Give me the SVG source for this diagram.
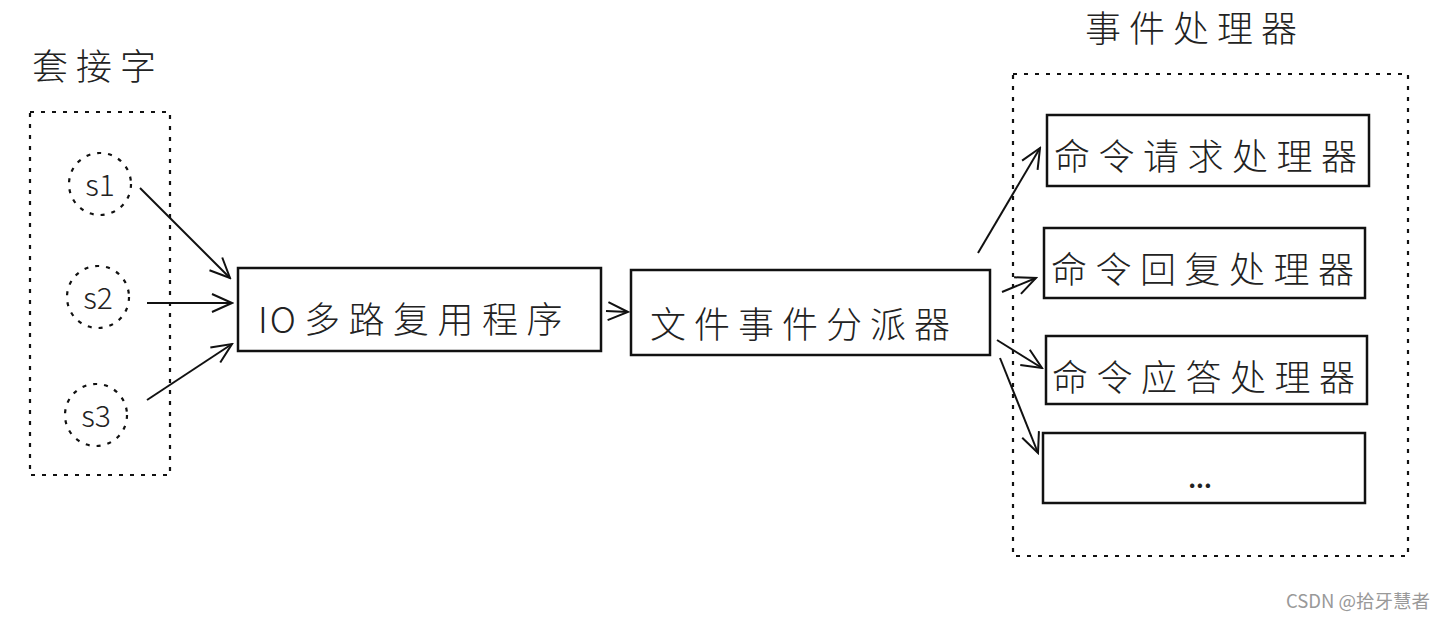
<svg xmlns="http://www.w3.org/2000/svg" width="1444" height="619" viewBox="0 0 1444 619">
<style>
.lbl{font-family:"Noto Sans CJK SC","Liberation Sans",sans-serif;font-weight:300;fill:#222}
.sp{letter-spacing:8px}
.dash{fill:none;stroke:#111;stroke-width:2.2;stroke-dasharray:4 7}
.box{fill:#fff;stroke:#111;stroke-width:2.5}
.cn{fill:none;stroke:#111;stroke-width:2}
</style>
<defs>
<marker id="ah" viewBox="0 0 24 24" refX="22" refY="12" markerWidth="24" markerHeight="24" markerUnits="userSpaceOnUse" orient="auto">
<path d="M2 3 L22 12 L2 21" fill="none" stroke="#111" stroke-width="2"/>
</marker>
</defs>
<rect width="1444" height="619" fill="#fff"/>
<g id="sockets">
<text class="lbl sp" x="32" y="80" font-size="36">套接字</text>
<rect class="dash" x="30" y="112" width="140" height="363"/>
</g>
<g id="s1"><circle class="dash" cx="100" cy="184" r="31"/><text class="lbl" x="100" y="196" font-size="30" text-anchor="middle">s1</text></g>
<g id="s2"><circle class="dash" cx="98" cy="297" r="31"/><text class="lbl" x="98" y="309" font-size="30" text-anchor="middle">s2</text></g>
<g id="s3"><circle class="dash" cx="96" cy="415" r="31"/><text class="lbl" x="96" y="427" font-size="30" text-anchor="middle">s3</text></g>
<g id="io"><rect class="box" x="238" y="268" width="363" height="83"/><text class="lbl" x="258" y="333" font-size="36"><tspan style="letter-spacing:2px">IO</tspan><tspan dx="6" style="letter-spacing:8.5px">多路复用程序</tspan></text></g>
<g id="dispatcher"><rect class="box" x="631" y="270" width="359" height="85"/><text class="lbl sp" x="650" y="338" font-size="36">文件事件分派器</text></g>
<g id="handlers">
<text class="lbl sp" x="1085" y="42" font-size="36">事件处理器</text>
<rect class="dash" x="1013" y="74" width="395" height="482"/>
</g>
<g id="h1"><rect class="box" x="1047" y="115" width="322" height="71"/><text class="lbl sp" x="1054" y="170" font-size="36" style="letter-spacing:8.5px">命令请求处理器</text></g>
<g id="h2"><rect class="box" x="1044" y="228" width="321" height="70"/><text class="lbl sp" x="1051" y="283" font-size="36" style="letter-spacing:8.5px">命令回复处理器</text></g>
<g id="h3"><rect class="box" x="1046" y="336" width="321" height="68"/><text class="lbl sp" x="1052" y="391" font-size="36" style="letter-spacing:8.5px">命令应答处理器</text></g>
<g id="h4"><rect class="box" x="1043" y="433" width="322" height="70"/><text class="lbl" x="1200" y="488" font-size="24" text-anchor="middle" style="font-weight:700">...</text></g>
<g id="connectors">
<path class="cn" d="M140 188 L230 278" marker-end="url(#ah)"/>
<path class="cn" d="M147 303 L232 303" marker-end="url(#ah)"/>
<path class="cn" d="M147 400 L232 344" marker-end="url(#ah)"/>
<path class="cn" d="M606 311 L628 312" marker-end="url(#ah)"/>
<path class="cn" d="M978 253 L1040 148" marker-end="url(#ah)"/>
<path class="cn" d="M1002 292 L1036 278" marker-end="url(#ah)"/>
<path class="cn" d="M997 340 L1042 368" marker-end="url(#ah)"/>
<path class="cn" d="M1000 358 L1038 453" marker-end="url(#ah)"/>
</g>
<text x="1430" y="608" font-family="'Noto Sans CJK SC','Liberation Sans',sans-serif" font-size="18.5" fill="#999" text-anchor="end">CSDN @拾牙慧者</text>
</svg>
